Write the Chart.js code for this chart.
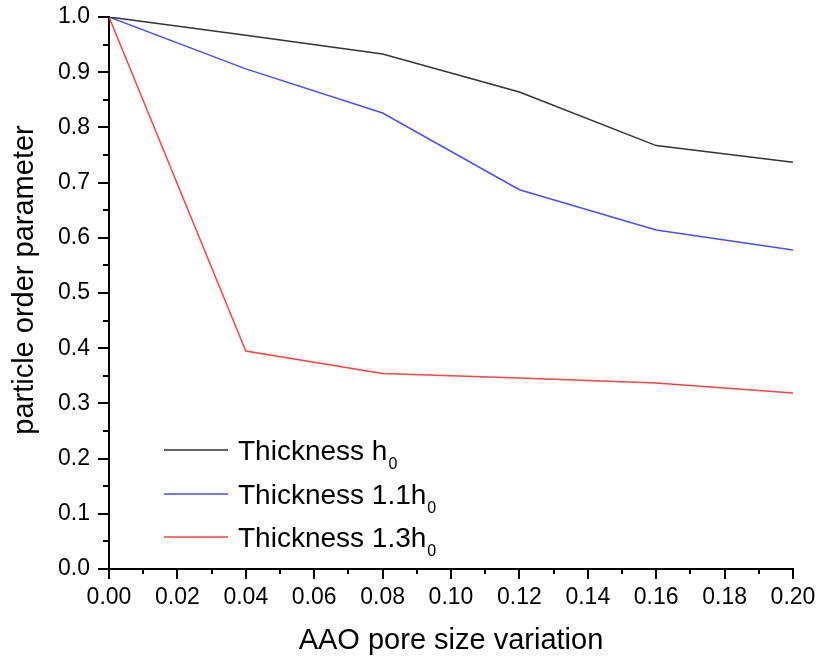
<!DOCTYPE html>
<html>
<head>
<meta charset="utf-8">
<script src="https://cdn.jsdelivr.net/npm/chart.js@4.4.0/dist/chart.umd.min.js"></script>
<style>
  html, body { margin: 0; padding: 0; background: #fff; }
  #wrap { width: 817px; height: 659px; }
</style>
</head>
<body>
<div id="wrap"><canvas id="myChart" width="817" height="659"></canvas></div>
<script>
// pore size variation
const poreSize = [0.00, 0.04, 0.08, 0.12, 0.16, 0.20];
// particle order parameter per film thickness
const thicknessH0 = [1.0, 0.967, 0.933, 0.864, 0.767, 0.737];
const thickness11 = [1.0, 0.906, 0.826, 0.687, 0.614, 0.578];
const thickness13 = [1.0, 0.395, 0.354, 0.346, 0.337, 0.319];
const seriesNames = [['Thickness h', '0'], ['Thickness 1.1h', '0'], ['Thickness 1.3h', '0']];
const seriesColors = ['#333333', '#4d4dff', '#ff4444'];
const yTitle = 'particle order parameter';
const FONT = '"Liberation Sans", Arial, sans-serif';

const toPoints = (ys) => ys.map((y, i) => ({ x: poreSize[i], y: y }));

// outward ticks: long on labelled values, short in between
const axisTicks = {
  id: 'axisTicks',
  afterDraw(chart) {
    const ctx = chart.ctx;
    const xs = chart.scales.x, ys = chart.scales.y;
    ctx.save();
    ctx.strokeStyle = '#000';
    ctx.lineWidth = 2;
    xs.ticks.forEach((t, i) => {
      const px = Math.round(xs.getPixelForValue(t.value));
      const len = i % 2 === 0 ? 10 : 5;
      ctx.beginPath();
      ctx.moveTo(px, xs.top);
      ctx.lineTo(px, xs.top + len);
      ctx.stroke();
    });
    ys.ticks.forEach((t, i) => {
      const py = Math.round(ys.getPixelForValue(t.value));
      const len = i % 2 === 0 ? 11 : 6;
      ctx.beginPath();
      ctx.moveTo(ys.right, py);
      ctx.lineTo(ys.right - len, py);
      ctx.stroke();
    });
    // y axis title, sits a bit above the axis middle in the original
    ctx.translate(33, 280);
    ctx.rotate(-Math.PI / 2);
    ctx.fillStyle = '#000';
    ctx.font = '29px ' + FONT;
    ctx.textAlign = 'center';
    ctx.textBaseline = 'alphabetic';
    ctx.fillText(yTitle, 0, 0);
    ctx.restore();
  }
};

// legend with subscripts
const subLegend = {
  id: 'subLegend',
  afterDraw(chart) {
    const ctx = chart.ctx;
    const area = chart.chartArea;
    const x0 = area.left + 55, x1 = area.left + 119, tx = area.left + 129;
    const rows = [450, 494, 537];
    ctx.save();
    seriesNames.forEach((name, i) => {
      const y = rows[i];
      ctx.strokeStyle = seriesColors[i];
      ctx.lineWidth = 1.5;
      ctx.beginPath();
      ctx.moveTo(x0, y);
      ctx.lineTo(x1, y);
      ctx.stroke();
      ctx.fillStyle = '#000';
      ctx.textBaseline = 'alphabetic';
      ctx.font = '28px ' + FONT;
      ctx.fillText(name[0], tx, y + 10);
      const w = ctx.measureText(name[0]).width;
      ctx.font = '16px ' + FONT;
      ctx.fillText(name[1], tx + w + 1, y + 19);
    });
    ctx.restore();
  }
};

new Chart(document.getElementById('myChart'), {
  type: 'line',
  data: {
    datasets: [
      { label: 'h0', data: toPoints(thicknessH0), borderColor: seriesColors[0] },
      { label: '1.1h0', data: toPoints(thickness11), borderColor: seriesColors[1] },
      { label: '1.3h0', data: toPoints(thickness13), borderColor: seriesColors[2] }
    ]
  },
  options: {
    responsive: false,
    animation: false,
    layout: { padding: { left: 0, right: 24, top: 17, bottom: 0 } },
    elements: {
      line: { borderWidth: 1.5, tension: 0 },
      point: { radius: 0 }
    },
    plugins: { legend: { display: false }, tooltip: { enabled: false } },
    scales: {
      x: {
        type: 'linear',
        min: 0, max: 0.2,
        grid: { display: false, drawTicks: false },
        border: { display: true, color: '#000', width: 2 },
        ticks: {
          stepSize: 0.01,
          autoSkip: false,
          maxRotation: 0,
          padding: 15,
          color: '#000',
          font: { family: FONT, size: 23 },
          callback: (v, i) => i % 2 === 0 ? v.toFixed(2) : ''
        },
        title: {
          display: true,
          text: 'AAO pore size variation',
          color: '#000',
          font: { family: FONT, size: 29 },
          padding: { top: 0, bottom: 1 }
        },
        afterFit: (s) => { s.height = 90; s.paddingLeft = 0; s.paddingRight = 0; }
      },
      y: {
        min: 0, max: 1.0,
        grid: { display: false, drawTicks: false },
        border: { display: true, color: '#000', width: 2 },
        ticks: {
          stepSize: 0.05,
          autoSkip: false,
          padding: 19,
          color: '#000',
          font: { family: FONT, size: 23 },
          callback: (v, i) => i % 2 === 0 ? v.toFixed(1) : ''
        },
        afterFit: (s) => { s.width = 109; s.paddingTop = 0; s.paddingBottom = 0; }
      }
    }
  },
  plugins: [axisTicks, subLegend]
});
</script>
</body>
</html>
